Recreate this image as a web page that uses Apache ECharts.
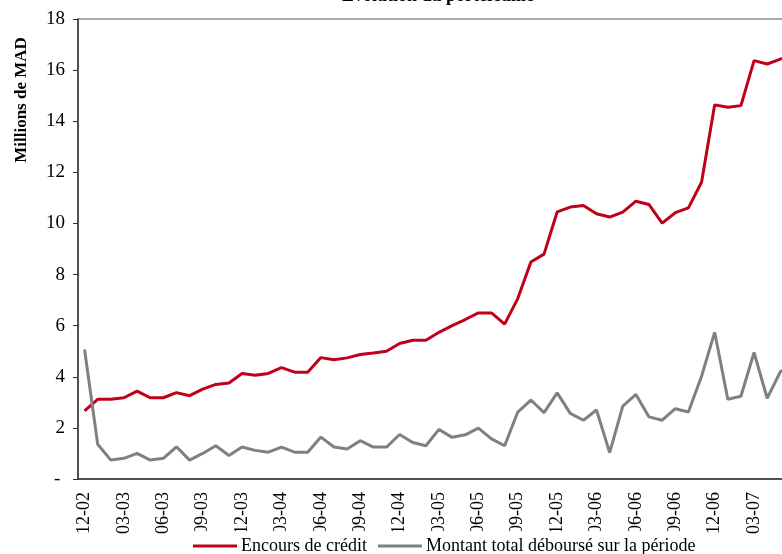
<!DOCTYPE html>
<html>
<head>
<meta charset="utf-8">
<title>Evolution du portefeuille</title>
<script src="https://cdn.jsdelivr.net/npm/echarts@6/dist/echarts.min.js"></script>
<style>
  html, body { margin: 0; padding: 0; background: #fff; }
  #chart { width: 782px; height: 554px; }
</style>
</head>
<body>
<div id="chart"></div>
<script>
// mois (fin de période), de 12-02 à 06-07
var months = [
  '12-02', '01-03', '02-03', '03-03', '04-03', '05-03', '06-03', '07-03', '08-03', '09-03', '10-03', '11-03',
  '12-03', '01-04', '02-04', '03-04', '04-04', '05-04', '06-04', '07-04', '08-04', '09-04', '10-04', '11-04',
  '12-04', '01-05', '02-05', '03-05', '04-05', '05-05', '06-05', '07-05', '08-05', '09-05', '10-05', '11-05',
  '12-05', '01-06', '02-06', '03-06', '04-06', '05-06', '06-06', '07-06', '08-06', '09-06', '10-06', '11-06',
  '12-06', '01-07', '02-07', '03-07', '04-07', '05-07', '06-07'
];

// Encours de crédit (millions de MAD)
var encours = [
  2.67, 3.12, 3.12, 3.18, 3.44, 3.18, 3.18, 3.38, 3.26, 3.52, 3.70, 3.76,
  4.13, 4.06, 4.13, 4.36, 4.18, 4.18, 4.75, 4.67, 4.74, 4.87, 4.93, 5.00,
  5.30, 5.43, 5.43, 5.74, 6.00, 6.24, 6.50, 6.50, 6.06, 7.06, 8.49, 8.80,
  10.45, 10.64, 10.70, 10.38, 10.25, 10.44, 10.87, 10.74, 10.01, 10.42, 10.61, 11.61,
  14.64, 14.55, 14.61, 16.37, 16.24, 16.43, 16.60
];

// Montant total déboursé sur la période (millions de MAD)
var debourse = [
  5.07, 1.36, 0.74, 0.81, 1.00, 0.74, 0.81, 1.26, 0.74, 1.00, 1.30, 0.92,
  1.25, 1.12, 1.05, 1.25, 1.05, 1.05, 1.64, 1.25, 1.17, 1.50, 1.25, 1.25,
  1.74, 1.43, 1.30, 1.94, 1.63, 1.73, 1.99, 1.57, 1.30, 2.62, 3.09, 2.60,
  3.37, 2.57, 2.30, 2.70, 1.03, 2.85, 3.31, 2.43, 2.30, 2.75, 2.62, 4.02,
  5.74, 3.12, 3.24, 4.95, 3.16, 4.19, 4.60
];

var serif = '"Liberation Serif", "DejaVu Serif", serif';

var chart = echarts.init(document.getElementById('chart'), null, { renderer: 'canvas' });

var option = {
  backgroundColor: '#fff',
  animation: false,
  textStyle: { fontFamily: serif, color: '#000' },
  graphic: [
    {
      // titre (coupé en haut de l'image)
      type: 'text',
      x: 438,
      y: 5,
      style: {
        text: 'Evolution du portefeuille',
        font: 'bold 18px ' + serif,
        fill: '#000',
        align: 'center',
        verticalAlign: 'bottom'
      }
    },
    {
      type: 'text',
      x: 22,
      y: 100,
      rotation: Math.PI / 2,
      style: {
        text: 'Millions de MAD',
        font: 'bold 17px ' + serif,
        fill: '#000',
        align: 'center',
        verticalAlign: 'middle'
      }
    }
  ],
  legend: {
    left: 188,
    top: 531,
    padding: [6, 5, 3, 5],
    backgroundColor: '#fff',
    z: 10,
    icon: 'rect',
    itemWidth: 44,
    itemHeight: 3,
    itemGap: 11,
    textStyle: { fontFamily: serif, fontSize: 18, color: '#000', padding: [0, 0, 0, -1] },
    data: ['Encours de crédit', 'Montant total déboursé sur la période']
  },
  grid: {
    // la zone de tracé dépasse à droite de l'image (comme dans l'original)
    left: 78,
    top: 19,
    width: 722,
    height: 460,
    outerBoundsMode: 'none',
    containLabel: false,
    show: true,
    borderColor: '#555',
    borderWidth: 1
  },
  xAxis: {
    type: 'category',
    data: months,
    boundaryGap: true,
    axisLine: { lineStyle: { color: '#333', width: 1.5 } },
    axisTick: { interval: 2, length: 5, lineStyle: { color: '#333' } },
    axisLabel: {
      interval: 2,
      rotate: 90,
      margin: 13,
      fontFamily: serif,
      fontSize: 18,
      color: '#000'
    },
    splitLine: { show: false }
  },
  yAxis: {
    type: 'value',
    min: 0,
    max: 18,
    interval: 2,
    axisLine: { show: true, lineStyle: { color: '#333', width: 1.5 } },
    axisTick: { show: true, length: 5, lineStyle: { color: '#333' } },
    axisLabel: {
      margin: 13,
      fontFamily: serif,
      fontSize: 19,
      color: '#000',
      formatter: function (v) { return v === 0 ? '- ' : String(v); }
    },
    splitLine: { show: false }
  },
  series: [
    {
      name: 'Encours de crédit',
      type: 'line',
      data: encours,
      symbol: 'none',
      color: '#c00018',
      lineStyle: { width: 3, color: '#c00018' }
    },
    {
      name: 'Montant total déboursé sur la période',
      type: 'line',
      data: debourse,
      symbol: 'none',
      color: '#808080',
      lineStyle: { width: 3, color: '#808080' }
    }
  ]
};

chart.setOption(option);
</script>
</body>
</html>
